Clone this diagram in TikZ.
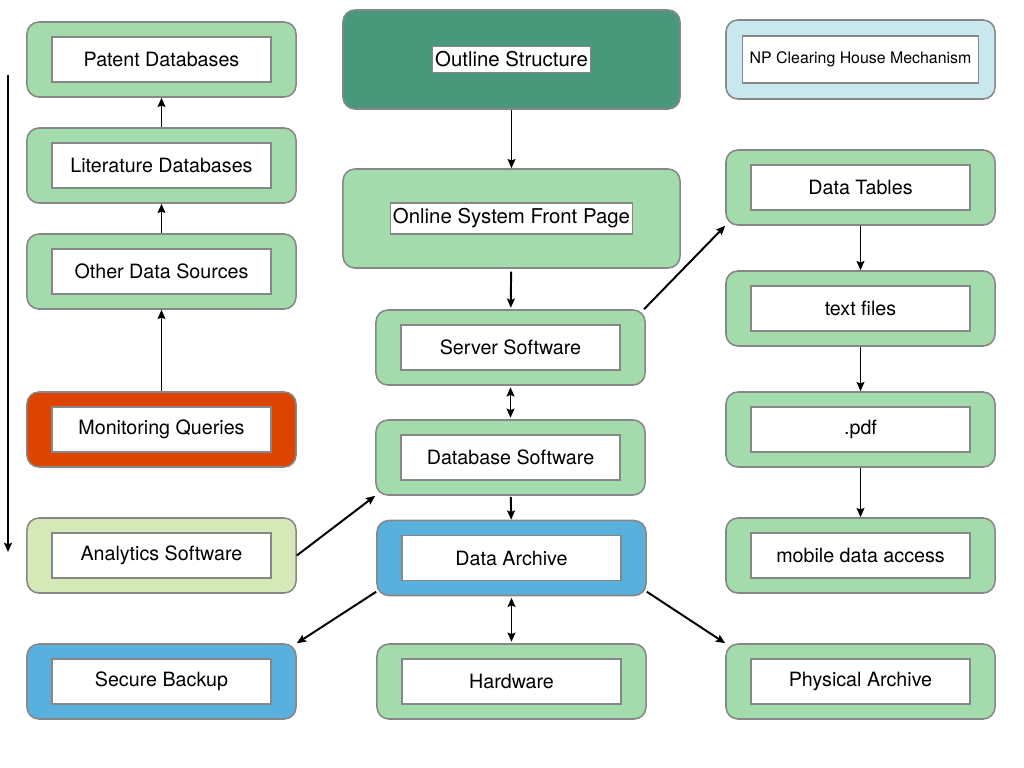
\documentclass[tikz,border=0pt]{standalone}
\usepackage{fontspec}
\setmainfont{TeX Gyre Heros}
\usetikzlibrary{arrows.meta,positioning}
\definecolor{boxgreen}{RGB}{163,219,172}
\definecolor{boxteal}{RGB}{74,152,124}
\definecolor{boxred}{RGB}{221,68,0}
\definecolor{boxlime}{RGB}{212,232,184}
\definecolor{boxblue}{RGB}{90,176,220}
\definecolor{boxice}{RGB}{200,232,238}
\definecolor{rim}{RGB}{135,135,135}
\tikzset{
	>={Stealth[length=6.5pt,width=5.5pt,inset=1pt]},
	outer/.style={
		rectangle,
		rounded corners=0.3cm,
		draw=rim, line width=1.1pt,
		fill=boxgreen,
		minimum width=6.725cm,
		minimum height=1.875cm},
	bigouter/.style={
		outer,
		minimum width=8.425cm,
		minimum height=2.475cm},
	inner/.style={
		rectangle,
		draw=rim, line width=1.1pt,
		fill=white,
		minimum width=5.475cm,
		minimum height=1.125cm,
		font=\fontsize{14}{16}\selectfont},
	tag/.style={
		rectangle,
		draw=rim, line width=0.8pt,
		fill=white,
		inner xsep=2pt, inner ysep=4pt,
		font=\fontsize{14.5}{16}\selectfont},
	line/.style={draw, line width=1.4pt, ->},
}

\begin{document}
\begin{tikzpicture}
	[x=0.025cm, y=-0.025cm]
\useasboundingbox (0,0) rectangle (1024,768);

% left column
\node[outer] (patent) at (161.5,59.5) {};
\node[inner] at (patent) {Patent Databases};
\node[outer] (litdb) at (161.5,165.5) {};
\node[inner] at (litdb) {Literature Databases};
\node[outer] (other) at (161.5,271.5) {};
\node[inner] at (other) {Other Data Sources};
\node[outer, fill=boxred] (monitor) at (161.5,429.5) {};
\node[inner] at (monitor) {Monitoring Queries};
\node[outer, fill=boxlime] (analytics) at (161.5,555.5) {};
\node[inner] at (analytics) {Analytics Software};
\node[outer, fill=boxblue] (backup) at (161.5,681.5) {};
\node[inner] at (backup) {Secure Backup};

% middle column
\node[bigouter, fill=boxteal] (outline) at (511.5,59.5) {};
\node[tag] at (outline) {Outline Structure};
\node[bigouter] (front) at (511.5,218.5) {};
\node[tag] at (front) {Online System Front Page};
\node[outer] (server) at (510.5,347.5) {};
\node[inner] at (server) {Server Software};
\node[outer] (dbsoft) at (510.5,457.5) {};
\node[inner] at (dbsoft) {Database Software};
\node[outer, fill=boxblue] (archive) at (511.5,558) {};
\node[inner] at (archive) {Data Archive};
\node[outer] (hardware) at (511.5,681.5) {};
\node[inner] at (hardware) {Hardware};

% right column
\node[outer, fill=boxice, minimum height=1.975cm] (clearing) at (860.5,59.5) {};
\node[inner, minimum width=5.9cm, minimum height=1.175cm,
	font=\fontsize{11.3}{13}\selectfont] at (clearing) {NP Clearing House Mechanism};
\node[outer] (tables) at (860.5,187.5) {};
\node[inner] at (tables) {Data Tables};
\node[outer] (textfiles) at (860.5,308.5) {};
\node[inner] at (textfiles) {text files};
\node[outer] (pdf) at (860.5,429.5) {};
\node[inner] at (pdf) {.pdf};
\node[outer] (mobile) at (860.5,555.5) {};
\node[inner] at (mobile) {mobile data access};
\node[outer] (physical) at (860.5,681.5) {};
\node[inner] at (physical) {Physical Archive};

\coordinate (railtop) at (8,75);
\coordinate (railbot) at (8,552);

\draw[line] (railtop) -- (railbot);
\draw[line] (other) -- (litdb);
\draw[line] (litdb) -- (patent);
\draw[line] (monitor) -- (other);
\draw[line] (outline) -- (front);
\draw[line, shorten <=2pt, shorten >=1pt] (front) -- (server);
\draw[line, <->, shorten <=1pt, shorten >=1pt] (server) -- (dbsoft);
\draw[line, shorten <=1pt] (dbsoft) -- (archive);
\draw[line, <->, shorten <=1pt, shorten >=1pt] (archive) -- (hardware);
\draw[line] (archive.194) -- (backup.north east);
\draw[line] (archive.-14) -- (physical.north west);
\draw[line] (analytics.east) -- (dbsoft.south west);
\draw[line] (server.16) -- (tables.south west);
\draw[line] (tables) -- (textfiles);
\draw[line] (textfiles) -- (pdf);
\draw[line] (pdf) -- (mobile);
\end{tikzpicture}
\end{document}
